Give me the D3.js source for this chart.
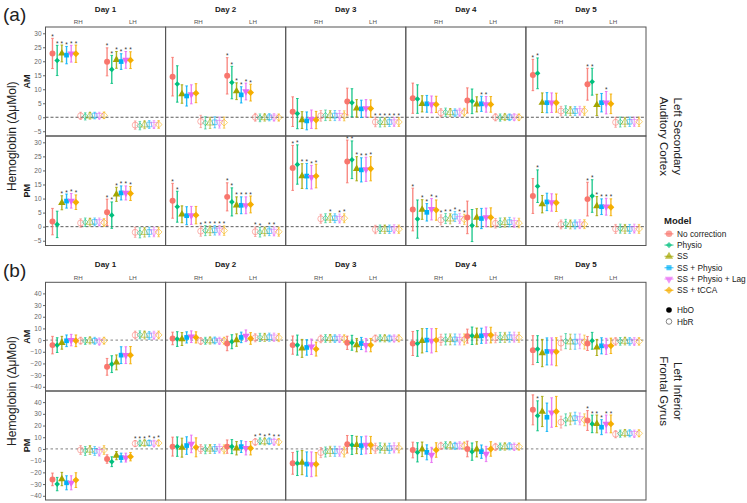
<!DOCTYPE html>
<html><head><meta charset="utf-8">
<script src="https://cdn.jsdelivr.net/npm/d3@7"></script>
<style>body{margin:0;background:#fff}svg{display:block}text{font-family:"Liberation Sans",Arial,sans-serif}</style>
</head><body><svg id="c" width="747" height="503"></svg>
<script>
// ---------- categories ----------
const models = ["No correction","Physio","SS","SS + Physio","SS + Physio + Lag","SS + tCCA"];
const modelColors = ["#F8766D","#00BF7D","#A3A500","#00B0F6","#E76BF3","#F5AE00"];
const days = ["Day 1","Day 2","Day 3","Day 4","Day 5"];
const hemispheres = ["RH","LH"];
const hbTypes = ["HbO","HbR"];
const sessions = ["AM","PM"];
const ticksA = [-5,0,5,10,15,20,25,30];
const ticksB = [-40,-30,-20,-10,0,10,20,30,40];

// each day row: RH-HbO(6), RH-HbR(6), LH-HbO(6), LH-HbR(6) ; models in order above
// ---------- (a) Left Secondary Auditory Cortex, AM ----------
const audAM_mean = [
 [22.8,20.3,22.8,22.2,22.7,22.7, 0.5,0.3,0.5,0.6,0.6,0.7, 19.8,17.1,20.5,19.9,20.5,20.4, -2.8,-3.0,-2.7,-2.6,-2.6,-2.6],
 [14.5,11.9,8.3,7.6,8.2,8.6, -1.5,-2.0,-2.0,-1.8,-1.9,-1.9, 14.8,12.4,9.3,8.0,9.2,8.8, 0,-0.2,-0.1,0,0,-0.1],
 [2.0,1.3,-1.0,-1.3,-0.7,-1.0, 0.5,0.7,0.6,0.6,0.6,0.5, 5.6,5.2,3.2,3.0,3.2,3.1, -1.7,-1.8,-1.8,-1.7,-1.7,-1.7],
 [6.8,6.5,4.8,4.8,4.6,4.6, 1.6,1.8,1.7,1.6,1.8,1.8, 6.0,5.7,4.6,4.8,4.6,4.6, 0,-0.1,0,0,0.1,0],
 [15.1,15.7,5.2,5.2,5.2,5.2, 2.2,2.4,2.2,2.2,2.3,2.3, 11.8,12.7,4.4,5.2,5.2,4.8, -1.8,-1.7,-1.7,-1.6,-1.6,-1.6]
];
const audAM_ci = [
 [5.4,5.4,3.0,3.1,3.0,3.1, 1.3,1.3,1.2,1.2,1.2,1.2, 5.0,5.0,3.0,2.8,3.0,3.0, 1.5,1.5,1.4,1.4,1.4,1.4],
 [6.9,6.5,3.3,3.6,3.4,3.4, 2.2,2.2,2.0,2.0,2.0,2.0, 6.5,5.8,3.0,2.9,3.0,3.0, 1.4,1.4,1.3,1.3,1.3,1.3],
 [5.3,5.4,3.0,3.2,3.3,3.1, 1.9,1.9,1.8,1.8,1.8,1.8, 4.8,5.0,3.1,3.1,3.1,3.1, 1.7,1.7,1.6,1.6,1.6,1.6],
 [5.4,5.1,2.9,3.0,3.0,2.9, 1.5,1.5,1.4,1.4,1.4,1.4, 4.5,4.4,2.7,2.7,2.8,2.8, 1.3,1.3,1.2,1.2,1.2,1.2],
 [5.6,5.5,3.5,3.6,3.5,3.4, 1.7,1.7,1.6,1.6,1.6,1.6, 5.7,4.8,3.8,3.3,4.0,3.5, 1.8,1.8,1.7,1.7,1.7,1.7]
];
const audAM_sig = ["111111000000111111000000","000000000000111111000000","000000000000000000111111","000000000000000110000000","110000000000110010000000"];

// ---------- (a) PM ----------
const audPM_mean = [
 [1.8,0.8,8.5,9.1,9.2,8.7, 1.3,1.6,1.6,1.7,1.7,1.5, 5.1,4.1,11.5,12.0,12.0,11.8, -2.0,-2.2,-2.0,-1.9,-1.9,-1.9],
 [9.2,7.1,4.4,3.9,4.0,4.1, -1.6,-1.4,-1.4,-1.3,-1.3,-1.4, 10.6,8.8,7.6,7.6,7.6,7.9, -1.8,-2.0,-1.7,-1.6,-1.7,-1.8],
 [20.9,22.1,18.0,18.0,17.6,18.0, 2.8,3.0,3.1,3.0,2.9,3.0, 23.2,23.8,20.6,20.2,20.4,20.6, -1.0,-0.9,-0.9,-0.9,-0.8,-0.9],
 [6.1,2.7,6.1,5.1,6.2,5.9, 2.4,2.9,2.8,3.6,2.9,2.6, 3.3,0.4,3.2,2.9,3.3,3.3, 1.2,1.4,1.5,1.6,1.4,1.3],
 [10.9,14.4,8.0,8.8,8.6,8.5, 0.8,1.0,0.8,0.8,0.9,0.9, 9.8,10.9,7.3,7.1,7.1,6.9, -0.8,-0.7,-0.8,-0.8,-0.7,-0.8]
];
const audPM_ci = [
 [4.7,4.7,2.5,2.5,2.6,2.6, 1.5,1.5,1.4,1.4,1.4,1.4, 4.7,4.7,2.5,2.5,2.5,2.5, 1.8,1.8,1.7,1.7,1.7,1.7],
 [6.2,5.5,3.0,3.2,3.2,3.1, 1.8,1.8,1.7,1.7,1.7,1.7, 5.0,5.0,3.0,3.0,3.0,3.0, 1.7,1.7,1.6,1.6,1.6,1.6],
 [8.0,7.0,4.4,4.5,4.2,4.2, 1.6,1.6,1.6,1.6,1.6,1.6, 7.6,6.7,4.3,4.3,4.3,4.3, 1.5,1.5,1.5,1.5,1.5,1.5],
 [7.6,6.8,3.5,3.1,3.8,3.6, 1.8,1.8,1.8,1.8,1.8,1.8, 5.8,5.7,3.2,3.6,3.3,3.4, 1.7,1.7,1.7,1.7,1.7,1.7],
 [6.2,5.8,3.1,3.1,3.1,3.1, 1.6,1.6,1.6,1.6,1.6,1.6, 6.0,5.8,3.4,2.8,3.0,3.0, 1.6,1.6,1.6,1.6,1.6,1.6]
];
const audPM_sig = ["001111000000111111000000","110000111111111111110110","111111001011111111000000","101111111111000000000000","010000000000111111000000"];

// ---------- (b) Left Inferior Frontal Gyrus, AM ----------
const ifgAM_mean = [
 [-4.3,-4.3,-2.3,-0.6,0,-0.6, -0.5,-0.8,-0.4,-0.6,-1.1,-0.5, -22.9,-20.6,-19.1,-12.9,-12.9,-12.9, 4.3,4.5,4.3,4.0,4.2,4.4],
 [1.4,0.9,0.9,2.3,2.9,2.3, -0.8,-0.6,-0.5,-0.3,-0.5,-0.5, -2.9,-1.4,0,2.3,3.7,1.4, 2.0,2.3,2.3,2.5,2.5,2.2],
 [-4.3,-4.3,-7.1,-6.3,-5.7,-7.7, 1.0,1.4,1.4,1.3,1.4,1.3, -2.3,-2.3,-4.3,-2.9,-4.3,-4.3, 1.4,1.5,1.4,1.4,1.5,1.5],
 [-2.9,-2.9,-0.6,0,-0.6,0, 0.3,0.5,0.6,0.6,0.5,0.6, 3.4,3.7,3.4,3.7,4.3,4.3, 2.0,2.3,2.3,2.5,2.5,2.4],
 [-8.6,-7.7,-11.1,-9.7,-9.7,-10.0, -2.6,-0.9,-1.4,-1.4,-1.1,-1.7, -2.9,-0.6,-6.3,-4.9,-5.4,-4.9, -1.1,-1.1,-0.9,-1.1,-1.1,-1.1]
];
const ifgAM_ci = [
 [7.5,6.3,5.5,5.0,4.9,5.0, 3,3,3,3,3,3, 7.2,7.2,6.4,7.2,7.2,7.4, 3.4,3.4,3.4,3.4,3.4,3.4],
 [5.4,6.3,5.5,4.8,5.0,4.8, 3,3,3,3,3,3, 6.2,6.0,5.3,4.5,5.0,5.0, 3.5,3.5,3.5,3.5,3.5,3.5],
 [7.8,8.6,7.7,6.6,6.6,6.0, 3.3,3.3,3.3,3.3,3.3,3.3, 5.7,6.4,5.7,5.2,5.7,5.7, 3,3,3,3,3,3],
 [10.3,11.0,10.4,9.9,10.4,9.9, 4.7,4.7,4.7,4.7,4.7,4.7, 6.0,7.5,6.9,6.5,7.0,6.7, 4.3,4.3,4.3,4.3,4.3,4.3],
 [12.4,11.5,11.7,11.6,11.6,12.0, 6.0,6.5,6.5,6.5,6.3,6.0, 6.0,7.2,6.9,6.9,6.9,6.6, 3.3,3.3,3.3,3.3,3.3,3.3]
];
const ifgAM_sig = ["000000000000000000000000","000000000000000000000000","000000000000000000000000","000000000000000000000000","000000000000000000000000"];

// ---------- (b) PM ----------
const ifgPM_mean = [
 [-26.0,-30.0,-25.7,-28.9,-28.9,-26.6, -0.9,-1.7,-0.9,-1.7,-2.3,-0.9, -8.6,-10.9,-5.7,-7.4,-7.4,-6.6, 4.6,4.9,4.9,5.1,4.9,5.1],
 [2.0,2.0,1.1,2.9,4.3,1.4, 0,-0.3,0,0,0.3,-0.3, 2.0,2.0,0.6,2.0,0.6,0.6, 6.0,6.6,6.3,6.6,6.3,6.0],
 [-12.3,-12.3,-11.7,-12.9,-13.1,-13.1, -3.1,-2.6,-2.0,-2.0,-2.0,-2.6, 4.0,3.4,3.4,2.9,3.4,3.4, 0.6,0.9,0.6,0.6,0.9,0.9],
 [-0.9,-2.9,-0.3,-2.9,-5.1,-0.9, 2.6,3.1,2.9,2.6,3.1,2.9, 0,-2.3,-0.3,-2.3,-4.3,0, 1.7,2.0,2.0,2.3,2.0,2.0],
 [33.4,28.3,32.0,27.1,31.1,32.0, 22.9,24.9,25.7,26.3,25.7,24.9, 24.3,21.4,21.4,18.6,21.4,21.4, 12.6,13.1,13.4,13.4,13.1,13.4]
];
const ifgPM_ci = [
 [5.4,5.7,5.7,6.0,6.0,6.3, 3.8,3.8,3.8,3.8,3.8,3.8, 3.6,4.2,3.5,3.8,3.8,3.6, 2.6,2.6,2.6,2.6,2.6,2.6],
 [8.1,8.3,8.1,7.5,7.5,8.1, 3.8,3.8,3.8,3.8,3.8,3.8, 5.7,6.0,5.7,5.0,5.7,5.7, 2.9,2.9,2.9,2.9,2.9,2.9],
 [9.3,10.4,10.3,10.4,10.6,10.0, 4.3,4.3,4.3,4.3,4.3,4.3, 7.5,8.1,7.4,7.5,7.6,7.3, 4.3,4.3,4.3,4.3,4.3,4.3],
 [6.7,8.2,6.2,6.4,6.5,6.2, 3.1,3.1,3.1,3.1,3.1,3.1, 6.7,7.4,6.5,5.7,6.5,6.2, 3.1,3.1,3.1,3.1,3.1,3.1],
 [12.8,12.8,12.9,12.1,12.6,12.9, 5.1,5.1,5.1,5.1,5.1,5.1, 8.5,7.5,7.6,6.4,7.6,7.6, 3.1,3.1,3.1,3.1,3.1,3.1]
];
const ifgPM_sig = ["000000000000000000111111","000000000000000000111111","000000000000000000000000","000000000000000000000000","010000000000111111000000"];

// ---------- drawing ----------
const svg = d3.select("#c");
const xDay = d3.scaleBand().domain(days).range([45.5, 646]);
const xHem = d3.scaleLinear().domain([0.4, 2.6]).range([0, xDay.bandwidth()]);
const dodgeW = 1.03;
const shapeTypes = [d3.symbolCircle, d3.symbolDiamond2, d3.symbolTriangle, d3.symbolSquare, d3.symbolTriangle, d3.symbolDiamond2];
const shapeSizes = [28, 20, 24, 22, 24, 30];
const shapeRot = [0,0,0,0,180,0];

function xPos(d, h, hb, m) {
  const k = hb * 6 + m;
  return xDay(days[d]) + xHem(h + 1 + (k - 5.5) * dodgeW / 12);
}

function flatten(mean, ci, sig) {
  const out = [];
  mean.forEach((row, d) => row.forEach((v, i) => {
    const h = Math.floor(i / 12), hb = Math.floor((i % 12) / 6), m = i % 6;
    out.push({d, h, hb, m, v, ci: ci[d][i], sig: sig[d][i] === "1"});
  }));
  return out;
}

const regions = [
  {label: "(a)", labelY: 21, top: 27, mid: 136, bottom: 245.5, domain: [-6.7, 32.25], ticks: ticksA,
   rows: [flatten(audAM_mean, audAM_ci, audAM_sig), flatten(audPM_mean, audPM_ci, audPM_sig)],
   strip: ["Left Secondary", "Auditory Cortex"], zeroDash: "3,2", zeroColor: "#333", zeroW: 0.8},
  {label: "(b)", labelY: 277, top: 282.3, mid: 391, bottom: 500, domain: [-43.6, 49.5], ticks: ticksB,
   rows: [flatten(ifgAM_mean, ifgAM_ci, ifgAM_sig), flatten(ifgPM_mean, ifgPM_ci, ifgPM_sig)],
   strip: ["Left Inferior", "Frontal Gyrus"], zeroDash: "2.5,2.5", zeroColor: "#9a9a9a", zeroW: 1.3}
];

regions.forEach(reg => {
  const g = svg.append("g");
  g.append("text").attr("x", 3).attr("y", reg.labelY).attr("font-size", 19).attr("fill", "#222").text(reg.label);
  days.forEach(day => {
    g.append("text").attr("x", xDay(day) + xDay.bandwidth() / 2).attr("y", reg.top - 15)
      .attr("text-anchor", "middle").attr("font-size", 8).attr("font-weight", "bold").attr("fill", "#1a1a1a").text(day);
    hemispheres.forEach((hm, h) => {
      g.append("text").attr("x", xDay(day) + xHem(h + 1)).attr("y", reg.top - 2.8)
        .attr("text-anchor", "middle").attr("font-size", 6.2).attr("fill", "#555").text(hm);
    });
  });
  const yc = (reg.top + reg.bottom) / 2;
  g.append("text").attr("transform", `translate(12,${yc}) rotate(-90)`).attr("text-anchor", "middle")
    .attr("dominant-baseline", "central").attr("font-size", 12).attr("fill", "#222").text("Hemoglobin (\u0394\u03bcMol)");
  reg.strip.forEach((s, i) => {
    g.append("text").attr("transform", `translate(677.5,${yc}) rotate(90)`).attr("y", i * 13.5).attr("text-anchor", "middle")
      .attr("dominant-baseline", "central").attr("font-size", 11.5).attr("fill", "#222").text(s);
  });

  const rowBounds = [[reg.top, reg.mid], [reg.mid, reg.bottom]];
  reg.rows.forEach((data, r) => {
    const [t, b] = rowBounds[r];
    const y = d3.scaleLinear().domain(reg.domain).range([b, t]);
    g.append("text").attr("transform", `translate(27,${(t + b) / 2}) rotate(-90)`).attr("text-anchor", "middle")
      .attr("dominant-baseline", "central").attr("font-size", 9).attr("font-weight", "bold").attr("fill", "#1a1a1a").text(sessions[r]);
    const ax = g.append("g").attr("transform", `translate(${xDay(days[0])},0)`)
      .call(d3.axisLeft(y).tickValues(reg.ticks).tickSize(2.5).tickPadding(1.5));
    ax.select(".domain").remove();
    ax.selectAll("text").attr("font-size", 6.5).attr("fill", "#666").style("font-family", "Liberation Sans, Arial, sans-serif");
    ax.selectAll("line").attr("stroke", "#666");
    days.forEach(day => {
      g.append("line").attr("x1", xDay(day)).attr("x2", xDay(day) + xDay.bandwidth())
        .attr("y1", y(0)).attr("y2", y(0)).attr("stroke", reg.zeroColor).attr("stroke-width", reg.zeroW)
        .attr("stroke-dasharray", reg.zeroDash);
    });
    const pg = g.append("g");
    data.forEach(p => {
      const x = xPos(p.d, p.h, p.hb, p.m);
      const c = modelColors[p.m];
      const op = p.hb === 0 ? 0.85 : 0.5;
      const y1 = y(p.v + p.ci), y2 = y(p.v - p.ci);
      pg.append("line").attr("x1", x).attr("x2", x).attr("y1", y1).attr("y2", y2)
        .attr("stroke", c).attr("stroke-width", 1.4).attr("stroke-opacity", op);
      [y1, y2].forEach(yy => pg.append("line").attr("x1", x - 1.3).attr("x2", x + 1.3).attr("y1", yy).attr("y2", yy)
        .attr("stroke", c).attr("stroke-width", 1).attr("stroke-opacity", op));
    });
    data.forEach(p => {
      const x = xPos(p.d, p.h, p.hb, p.m);
      const c = modelColors[p.m];
      const sym = d3.symbol().type(shapeTypes[p.m]).size(shapeSizes[p.m]);
      const el = pg.append("path").attr("d", sym())
        .attr("transform", `translate(${x},${y(p.v)}) rotate(${shapeRot[p.m]})`);
      if (p.hb === 0) el.attr("fill", c);
      else el.attr("fill", "none").attr("stroke", c).attr("stroke-opacity", 0.55).attr("stroke-width", 1);
    });
    data.filter(p => p.sig).forEach(p => {
      pg.append("text").attr("x", xPos(p.d, p.h, p.hb, p.m)).attr("y", y(p.v + p.ci) + 0.5)
        .attr("text-anchor", "middle").attr("font-size", 6.5).attr("fill", "#333").text("*");
    });
    days.forEach(day => {
      g.append("rect").attr("x", xDay(day)).attr("y", t).attr("width", xDay.bandwidth()).attr("height", b - t)
        .attr("fill", "none").attr("stroke", "#555").attr("stroke-width", 1);
    });
  });
});

// ---------- legend ----------
const lg = svg.append("g");
lg.append("text").attr("x", 664).attr("y", 224).attr("font-size", 9.5).attr("font-weight", "bold").attr("fill", "#1a1a1a").text("Model");
models.forEach((m, i) => {
  const yy = 233.8 + i * 11.3;
  lg.append("line").attr("x1", 664.5).attr("x2", 673.5).attr("y1", yy).attr("y2", yy)
    .attr("stroke", modelColors[i]).attr("stroke-width", 1.4).attr("stroke-opacity", 0.6);
  lg.append("path").attr("d", d3.symbol().type(shapeTypes[i]).size(shapeSizes[i] * 1.2)())
    .attr("transform", `translate(669,${yy}) rotate(${shapeRot[i]})`).attr("fill", modelColors[i]).attr("fill-opacity", 0.7);
  lg.append("text").attr("x", 677).attr("y", yy).attr("dominant-baseline", "central").attr("font-size", 8.3).attr("fill", "#1a1a1a").text(m);
});
hbTypes.forEach((h, i) => {
  const yy = 310 + i * 11.5;
  const el = lg.append("circle").attr("cx", 669).attr("cy", yy).attr("r", 2.8);
  if (i === 0) el.attr("fill", "#000"); else el.attr("fill", "none").attr("stroke", "#777").attr("stroke-width", 0.9);
  lg.append("text").attr("x", 677).attr("y", yy).attr("dominant-baseline", "central").attr("font-size", 8.3).attr("fill", "#1a1a1a").text(h);
});
</script></body></html>
